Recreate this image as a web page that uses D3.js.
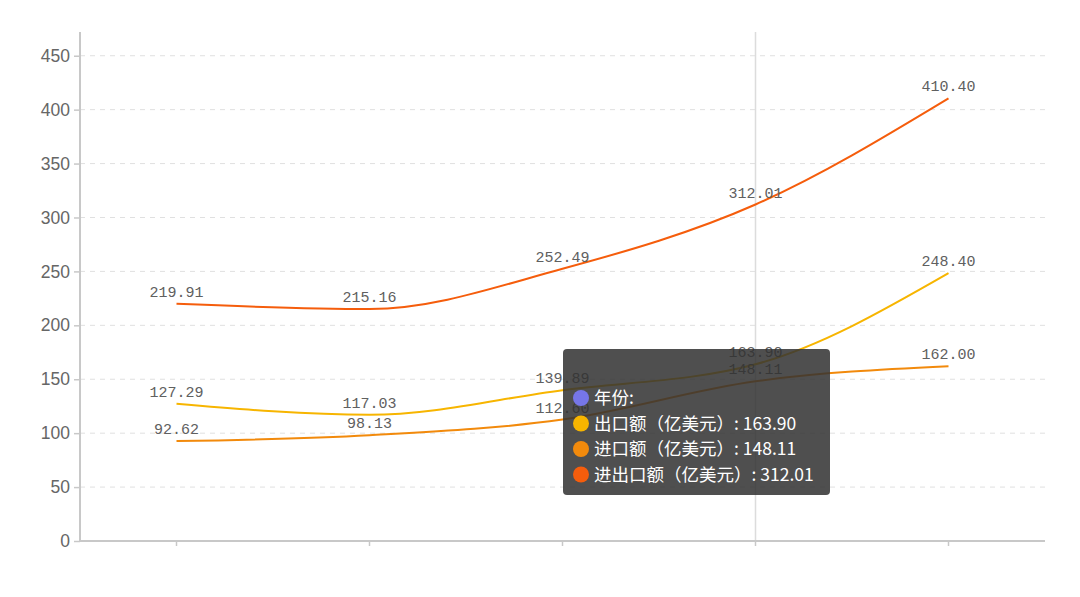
<!DOCTYPE html>
<html>
<head>
<meta charset="utf-8">
<script src="https://cdn.jsdelivr.net/npm/d3@7/dist/d3.min.js"></script>
<style>
  html, body { margin: 0; padding: 0; background: #fff; }
  svg { display: block; }
</style>
</head>
<body>
<div id="chart"></div>
<script>
// categories have no visible labels in the picture
const years = ['', ' ', '  ', '   ', '    '];
const exportVals = [127.29, 117.03, 139.89, 163.90, 248.40];
const importVals = [92.62, 98.13, 112.60, 148.11, 162.00];
const totalVals = [219.91, 215.16, 252.49, 312.01, 410.40];
const yTicks = [0, 50, 100, 150, 200, 250, 300, 350, 400, 450];

const seriesNames = ['出口额（亿美元）', '进口额（亿美元）', '进出口额（亿美元）'];
const seriesColors = ['#f7b500', '#f28a0c', '#f55d0c'];
const seriesData = [exportVals, importVals, totalVals];

const hoverIndex = 3;

const width = 1080, height = 597;
const margin = {left: 80, right: 35, top: 32, bottom: 56};
const innerW = width - margin.left - margin.right;
const innerH = height - margin.top - margin.bottom;

const svg = d3.select('#chart').append('svg')
  .attr('width', width)
  .attr('height', height);

const g = svg.append('g')
  .attr('transform', 'translate(' + margin.left + ',' + margin.top + ')');

const xScale = d3.scaleBand().domain(years).range([0, innerW]);
const xPos = (i) => xScale(years[i]) + xScale.bandwidth() / 2;
const yScale = d3.scaleLinear().domain([0, 472]).range([innerH, 0]);

// grid
g.selectAll('.grid')
  .data(yTicks.filter((t) => t > 0))
  .enter()
  .append('line')
  .attr('class', 'grid')
  .attr('x1', 0)
  .attr('x2', innerW)
  .attr('y1', (d) => yScale(d))
  .attr('y2', (d) => yScale(d))
  .attr('stroke', '#e0e0e0')
  .attr('stroke-dasharray', '5,5');

// axis pointer
g.append('line')
  .attr('x1', xPos(hoverIndex))
  .attr('x2', xPos(hoverIndex))
  .attr('y1', 0)
  .attr('y2', innerH)
  .attr('stroke', '#dcdcdc')
  .attr('stroke-width', 1.5);

// y axis
let yAxis = d3.axisLeft(yScale).tickValues(yTicks).tickSize(6).tickPadding(4);
let gY = g.append('g').call(yAxis);
gY.select('.domain').remove();
gY.append('line')
  .attr('x1', 0).attr('x2', 0)
  .attr('y1', 0).attr('y2', innerH)
  .attr('stroke', '#c8c8c8')
  .attr('stroke-width', 2);
gY.selectAll('.tick line').attr('stroke', '#c8c8c8').attr('stroke-width', 1.5);
gY.selectAll('.tick text')
  .attr('fill', '#666')
  .attr('font-size', 17.5)
  .attr('font-family', '"Liberation Sans", Arial, sans-serif');

// x axis
let xAxis = d3.axisBottom(xScale).tickSize(5).tickFormat(() => '');
let gX = g.append('g')
  .attr('transform', 'translate(0,' + innerH + ')')
  .call(xAxis);
gX.select('.domain').remove();
gX.append('line')
  .attr('x1', 0).attr('x2', innerW)
  .attr('stroke', '#c8c8c8')
  .attr('stroke-width', 2);
gX.selectAll('.tick line').attr('stroke', '#c8c8c8').attr('stroke-width', 1.5);

// lines
const line = d3.line()
  .x((d, i) => xPos(i))
  .y((d) => yScale(d))
  .curve(d3.curveMonotoneX);

seriesData.forEach((vals, s) => {
  g.append('path')
    .datum(vals)
    .attr('fill', 'none')
    .attr('stroke', seriesColors[s])
    .attr('stroke-width', 2)
    .attr('d', line);
});

// value labels
seriesData.forEach((vals, s) => {
  g.selectAll('.label-' + s)
    .data(vals)
    .enter()
    .append('text')
    .attr('class', 'label-' + s)
    .attr('x', (d, i) => xPos(i))
    .attr('y', (d) => yScale(d) - 7)
    .attr('text-anchor', 'middle')
    .attr('fill', '#606060')
    .attr('font-size', 15)
    .attr('font-family', '"Liberation Mono", "DejaVu Sans Mono", monospace')
    .text((d) => d.toFixed(2));
});

// tooltip
const tipX = 563, tipY = 349, tipW = 267, tipH = 146;
let tip = svg.append('g').attr('transform', 'translate(' + tipX + ',' + tipY + ')');
tip.append('rect')
  .attr('width', tipW)
  .attr('height', tipH)
  .attr('rx', 4)
  .attr('fill', 'rgba(50,50,50,0.86)');

const rows = [{color: '#7676e8', text: '年份:'}].concat(seriesNames.map((n, s) => {
  return {color: seriesColors[s], text: n + ': ' + seriesData[s][hoverIndex].toFixed(2)};
}));

rows.forEach((r, i) => {
  let cy = 49 + i * 25.5;
  tip.append('circle')
    .attr('cx', 18)
    .attr('cy', cy)
    .attr('r', 8)
    .attr('fill', r.color);
  tip.append('text')
    .attr('x', 31)
    .attr('y', cy)
    .attr('dy', '0.36em')
    .attr('fill', '#fff')
    .attr('font-size', 17.5)
    .attr('font-family', '"Noto Sans CJK SC", sans-serif')
    .text(r.text);
});
</script>
</body>
</html>
